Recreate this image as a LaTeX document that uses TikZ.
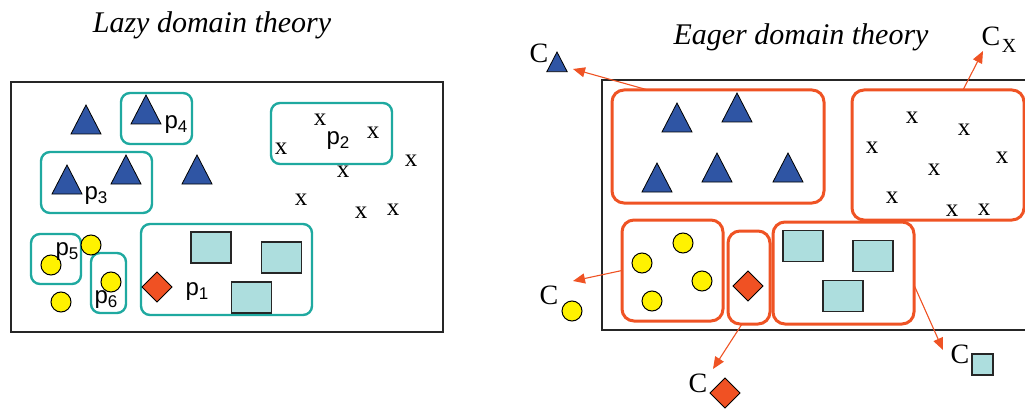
\documentclass[tikz,border=0pt]{standalone}
\usepackage{fontspec}
\setmainfont{Liberation Serif}
\setsansfont{Liberation Sans}
\usetikzlibrary{arrows.meta}
\definecolor{lazyteal}{HTML}{1FA9A0}
\definecolor{eagerred}{HTML}{EF5324}
\definecolor{triblue}{HTML}{2F55A4}
\definecolor{dotyellow}{HTML}{FFF200}
\definecolor{boxcyan}{HTML}{ADDEDE}
\definecolor{diared}{HTML}{F05123}
\newcommand{\psub}[1]{p\raisebox{-0.3ex}{\fontsize{17}{17}\selectfont #1}}

\begin{document}
\begin{tikzpicture}[x=1pt,y=-1pt,
    frame/.style={draw=black!85,line width=1.4pt},
    lazybox/.style={draw=lazyteal,line width=2.4pt,rounded corners=9pt,inner sep=0pt,outer sep=0pt},
    eagerbox/.style={draw=eagerred,line width=3pt,rounded corners=12pt,inner sep=0pt,outer sep=0pt},
    title/.style={font=\fontsize{30}{30}\selectfont\itshape},
    plab/.style={font=\sffamily\fontsize{24}{24}\selectfont,inner sep=0pt},
    clab/.style={font=\fontsize{28}{28}\selectfont,inner sep=0pt},
    xm/.style={font=\fontsize{25}{25}\selectfont,inner sep=0pt},
    pointer/.style={draw=eagerred,line width=1.1pt,-{Triangle[length=12pt,width=10pt]}},
    blutri/.pic={\draw[fill=triblue,draw=black,line width=0.8pt] (0,0) -- (15,29) -- (-15,29) -- cycle;},
    dot/.pic={\draw[fill=dotyellow,draw=black,line width=1pt] (0,0) circle (10pt);},
    dia/.pic={\draw[fill=diared,draw=black,line width=1pt] (0,-15) -- (15,0) -- (0,15) -- (-15,0) -- cycle;},
    sqr/.pic={\draw[fill=boxcyan,draw=black!85,line width=1.2pt] (-20,-15.5) rectangle (20,15.5);}]
  \useasboundingbox (0,0) rectangle (1025,409);

  % lazy domain theory
  \node[title] (lazytitle) at (212,25) {Lazy domain theory};
  \draw[frame] (11,82) rectangle (443,332);
  \node[lazybox,minimum width=71,minimum height=51] (p4box) at (156.5,118.5) {};
  \node[lazybox,minimum width=111,minimum height=61] (p3box) at (96.5,182.5) {};
  \node[lazybox,minimum width=121,minimum height=61] (p2box) at (331.5,133.5) {};
  \node[lazybox,minimum width=50,minimum height=50] (p5box) at (56,259) {};
  \node[lazybox,minimum width=35,minimum height=60] (p6box) at (108.5,283) {};
  \node[lazybox,minimum width=171,minimum height=91] (p1box) at (226.5,269.5) {};
  \foreach \x/\y in {86/105,146/95,67/165,126/155,197/155}
    \pic at (\x,\y) {blutri};
  \foreach \x/\y [count=\i] in {320/120,373/133,281/149,411/161,343/172,301/200,361/213,393/210}
    \node[xm] (lx\i) at (\x,\y) {x};
  \foreach \x/\y in {91/245,51/265,111/282,61/302}
    \pic at (\x,\y) {dot};
  \pic at (157,287) {dia};
  \foreach \x/\y in {211/247.5,281.5/257.5,251.5/297.5}
    \pic at (\x,\y) {sqr};
  \node[plab] (p4) at (176,125) {\psub{4}};
  \node[plab] (p3) at (96,196) {\psub{3}};
  \node[plab] (p2) at (338,141) {\psub{2}};
  \node[plab] (p5) at (67,252) {\psub{5}};
  \node[plab] (p6) at (106,300) {\psub{6}};
  \node[plab] (p1) at (197,292) {\psub{1}};

  % eager domain theory
  \node[title] (eagertitle) at (801,37) {Eager domain theory};
  \draw[frame] (1030,80) -- (602,80) -- (602,330) -- (1030,330);
  \node[eagerbox,minimum width=212,minimum height=113] (tribox) at (718,146.5) {};
  \node[eagerbox,minimum width=172,minimum height=130] (xbox) at (938,155) {};
  \node[eagerbox,minimum width=101,minimum height=101] (dotbox) at (672.5,270.5) {};
  \node[eagerbox,minimum width=42,minimum height=93] (diabox) at (749,277.5) {};
  \node[eagerbox,minimum width=141,minimum height=102] (sqrbox) at (843.5,273) {};
  \foreach \x/\y in {677/103,737/93,657/163,717/153,788/153}
    \pic at (\x,\y) {blutri};
  \foreach \x/\y [count=\i] in {912/118,964/130,872/148,1002/158,934/170,892/198,952/211,984/210}
    \node[xm] (rx\i) at (\x,\y) {x};
  \foreach \x/\y in {683/243,642/263,702/281,652/301}
    \pic at (\x,\y) {dot};
  \pic at (748,286) {dia};
  \foreach \x/\y in {803/246,873/256,843/296}
    \pic at (\x,\y) {sqr};

  % class labels
  \node[clab] (ctri) at (539,53) {C};
  \pic[scale=0.68] at (557,52) {blutri};
  \node[clab] (cx) at (991,36) {C};
  \node[font=\fontsize{20}{20}\selectfont,inner sep=0pt] (cxsub) at (1009,46) {X};
  \node[clab] (cdot) at (549,295) {C};
  \pic at (572,311) {dot};
  \node[clab] (cdia) at (698,383) {C};
  \pic at (725,393) {dia};
  \node[clab] (csqr) at (960,354) {C};
  \draw[fill=boxcyan,draw=black!85,line width=1.2pt] (972,354) rectangle (993,375);

  \coordinate (ctritip) at (573,69);
  \coordinate (cxtip) at (983,51);
  \coordinate (cdottip) at (573,281);
  \coordinate (cdiatip) at (713,369);
  \coordinate (csqrtip) at (943,350);
  \draw[pointer] ([xshift=-70pt]tribox.north) -- (ctritip);
  \draw[pointer] ([xshift=25pt]xbox.north) -- (cxtip);
  \draw[pointer] (dotbox.west) -- (cdottip);
  \draw[pointer] ([xshift=-7pt]diabox.south) -- (cdiatip);
  \draw[pointer] ([yshift=-12pt]sqrbox.east) -- (csqrtip);
\end{tikzpicture}
\end{document}
